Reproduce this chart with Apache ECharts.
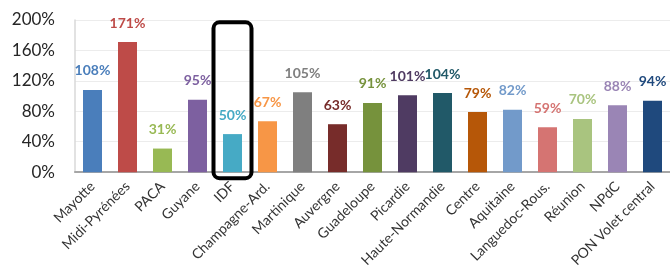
<!DOCTYPE html>
<html>
<head>
<meta charset="utf-8">
<script src="https://cdn.jsdelivr.net/npm/echarts@6/dist/echarts.min.js"></script>
<style>
  html, body { margin: 0; padding: 0; background: #fff; }
  #chart { width: 670px; height: 270px; }
</style>
</head>
<body>
<div id="chart"></div>
<script>
  var regions = ['Mayotte', 'Midi-Pyrénées', 'PACA', 'Guyane', 'IDF', 'Champagne-Ard.', 'Martinique',
    'Auvergne', 'Guadeloupe', 'Picardie', 'Haute-Normandie', 'Centre', 'Aquitaine',
    'Languedoc-Rous.', 'Réunion', 'NPdC', 'PON Volet central']
  var rates = [108, 171, 31, 95, 50, 67, 105, 63, 91, 101, 104, 79, 82, 59, 70, 88, 94]
  var yTicks = [0, 40, 80, 120, 160, 200]
  var highlighted = 'IDF'

  var barColors = ['#4a7ebb', '#be4b48', '#98b954', '#7d60a0', '#46aac5', '#f79646', '#7f7f7f',
    '#772c2a', '#76923c', '#4f3b62', '#215968', '#b65708', '#729aca', '#d57472', '#a9c47f',
    '#9a85b5', '#1f497d']

  var chart = echarts.init(document.getElementById('chart'))
  var font = 'Lato, "Open Sans", sans-serif'

  chart.setOption({
    animation: false,
    grid: { left: 75, top: 20, width: 599, bottom: 97, containLabel: false },
    xAxis: {
      type: 'category',
      data: regions,
      axisLine: { lineStyle: { color: '#a6a6a6', width: 2 } },
      axisTick: { show: false },
      axisLabel: { rotate: 45, fontSize: 14, color: '#333', fontFamily: font, interval: 0, margin: 12 }
    },
    yAxis: {
      type: 'value',
      min: yTicks[0],
      max: yTicks[yTicks.length - 1],
      interval: yTicks[1] - yTicks[0],
      axisLine: { show: true, lineStyle: { color: '#d9d9d9', width: 1.5 } },
      axisTick: { show: false },
      splitLine: { lineStyle: { color: '#ececec' } },
      axisLabel: { formatter: '{value}%', fontSize: 17, color: '#262626', fontFamily: font, margin: 20 }
    },
    series: [{
      type: 'bar',
      barWidth: 19,
      data: rates.map(function (v, i) {
        return {
          value: v,
          itemStyle: { color: barColors[i] },
          label: { color: barColors[i] }
        }
      }),
      label: {
        show: true,
        position: 'top',
        distance: 12,
        formatter: '{c}%',
        fontSize: 14,
        fontWeight: 'bold',
        fontFamily: font
      }
    }]
  })

  // black rounded box around the highlighted region
  var idx = regions.indexOf(highlighted)
  var boxTop = chart.convertToPixel({ xAxisIndex: 0, yAxisIndex: 0 }, [idx, 197])
  var boxBottom = chart.convertToPixel({ xAxisIndex: 0, yAxisIndex: 0 }, [idx, 0])
  chart.setOption({
    graphic: [{
      type: 'rect',
      shape: { x: boxTop[0] - 19, y: boxTop[1], width: 38, height: boxBottom[1] - boxTop[1] + 6, r: 6 },
      style: { fill: null, stroke: '#000', lineWidth: 4 },
      z: 10
    }]
  })
</script>
</body>
</html>
